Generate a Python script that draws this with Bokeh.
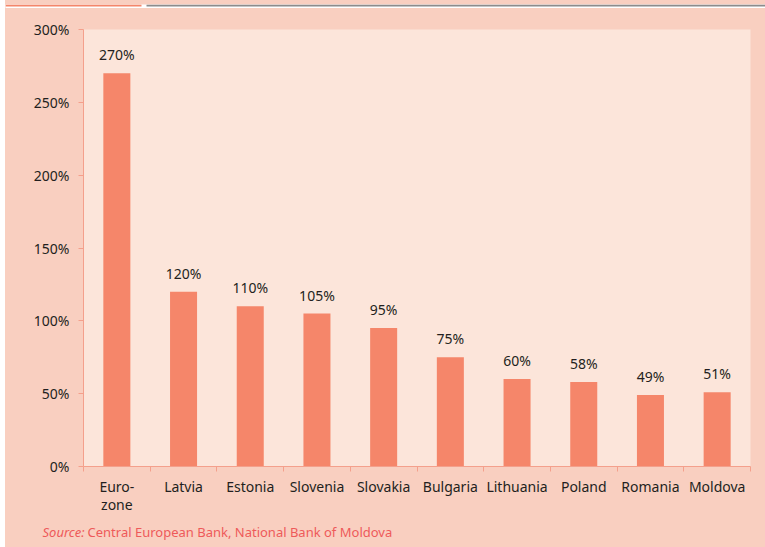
from bokeh.plotting import figure
from bokeh.models import Range1d, FixedTicker, ColumnDataSource, Label, LinearAxis, Spacer
from bokeh.layouts import column, row
from bokeh.core.properties import value
from bokeh.embed import file_html
from bokeh.resources import INLINE

categories = ["Euro-\nzone", "Latvia", "Estonia", "Slovenia", "Slovakia",
              "Bulgaria", "Lithuania", "Poland", "Romania", "Moldova"]
values = [270, 120, 110, 105, 95, 75, 60, 58, 49, 51]
y_ticks = [0, 50, 100, 150, 200, 250, 300]
source_label = "Source:"
source_text = "Central European Bank, National Bank of Moldova"

FONT = "Noto Sans"
OUTER = "#F9CFC0"
INNER = "#FCE5DA"
BAR = "#F5866A"
AXIS = "#F4A08C"
SRC_COLOR = "#EE5A5A"
WHITE = "#FFFFFF"

n = len(categories)
xs = [i + 0.5 for i in range(n)]
labels = [f"{v}%" for v in values]
src = ColumnDataSource(dict(x=xs, top=values, lab=labels))

p = figure(width=760, height=509, output_backend="svg", toolbar_location=None,
           x_range=Range1d(0, n), y_range=Range1d(0, 300),
           x_axis_location=None, y_axis_location=None,
           min_border_left=78, min_border_right=15, min_border_top=21, min_border_bottom=51)
p.background_fill_color = INNER
p.border_fill_color = OUTER
p.outline_line_color = None
p.xgrid.visible = False
p.ygrid.visible = False

p.vbar(x="x", top="top", width=0.405, bottom=0, source=src, color=BAR, line_color=None)
p.text(x="x", y="top", text="lab", source=src, text_align="center", text_baseline="bottom",
       y_offset=-9, text_font=value(FONT), text_font_size="14px", text_color="#231F20")

# y axis
ya = LinearAxis(ticker=FixedTicker(ticks=y_ticks, minor_ticks=[]))
ya.major_label_overrides = {t: f"{t}%" for t in y_ticks}
ya.axis_line_color = AXIS
ya.major_tick_line_color = AXIS
ya.major_tick_in = 0
ya.major_tick_out = 5
ya.minor_tick_line_color = None
ya.major_label_text_font = FONT
ya.major_label_text_font_size = "14px"
ya.major_label_text_color = "#231F20"
ya.major_label_standoff = 9
p.add_layout(ya, "left")

# x axis
xa = LinearAxis(ticker=FixedTicker(ticks=xs, minor_ticks=list(range(n + 1))))
xa.major_label_overrides = {x: c for x, c in zip(xs, categories)}
xa.axis_line_color = AXIS
xa.major_tick_line_color = None
xa.major_tick_in = 0
xa.major_tick_out = 5
xa.minor_tick_line_color = AXIS
xa.minor_tick_in = 0
xa.minor_tick_out = 5
xa.major_label_text_font = FONT
xa.major_label_text_font_size = "14px"
xa.major_label_text_color = "#231F20"
xa.major_label_text_line_height = 0.95
xa.major_label_standoff = 5
p.add_layout(xa, "below")


def bare(w, h, color):
    f = figure(width=w, height=h, output_backend="svg", toolbar_location=None,
               x_range=Range1d(0, w), y_range=Range1d(0, h),
               x_axis_location=None, y_axis_location=None,
               min_border=0, min_border_left=0, min_border_right=0,
               min_border_top=0, min_border_bottom=0)
    f.background_fill_color = color
    f.border_fill_color = color
    f.outline_line_color = None
    f.grid.visible = False
    return f


# footer with source note
foot = bare(760, 30, OUTER)
foot.add_layout(Label(x=37, y=16, x_units="screen", y_units="screen", text=source_label,
                      text_font=FONT, text_font_style="italic", text_font_size="13px",
                      text_baseline="alphabetic", text_color=SRC_COLOR))
foot.add_layout(Label(x=82, y=16, x_units="screen", y_units="screen", text=source_text,
                      text_font=FONT, text_font_size="13px",
                      text_baseline="alphabetic", text_color=SRC_COLOR))

# decorative header rules
head = bare(760, 8, WHITE)
head.quad(left=[0, 141], right=[136, 760], top=[8, 8], bottom=[6, 6],
          color=["#F4866A", "#8C8C8C"], line_color=None)


def gap(h):
    return Spacer(width=5, height=h, styles={"background-color": WHITE})


layout = column(row(gap(8), head, spacing=0),
                row(gap(509), p, spacing=0),
                row(gap(30), foot, spacing=0),
                spacing=0, styles={"background-color": OUTER})

open("out.html", "w").write(file_html(layout, INLINE))
